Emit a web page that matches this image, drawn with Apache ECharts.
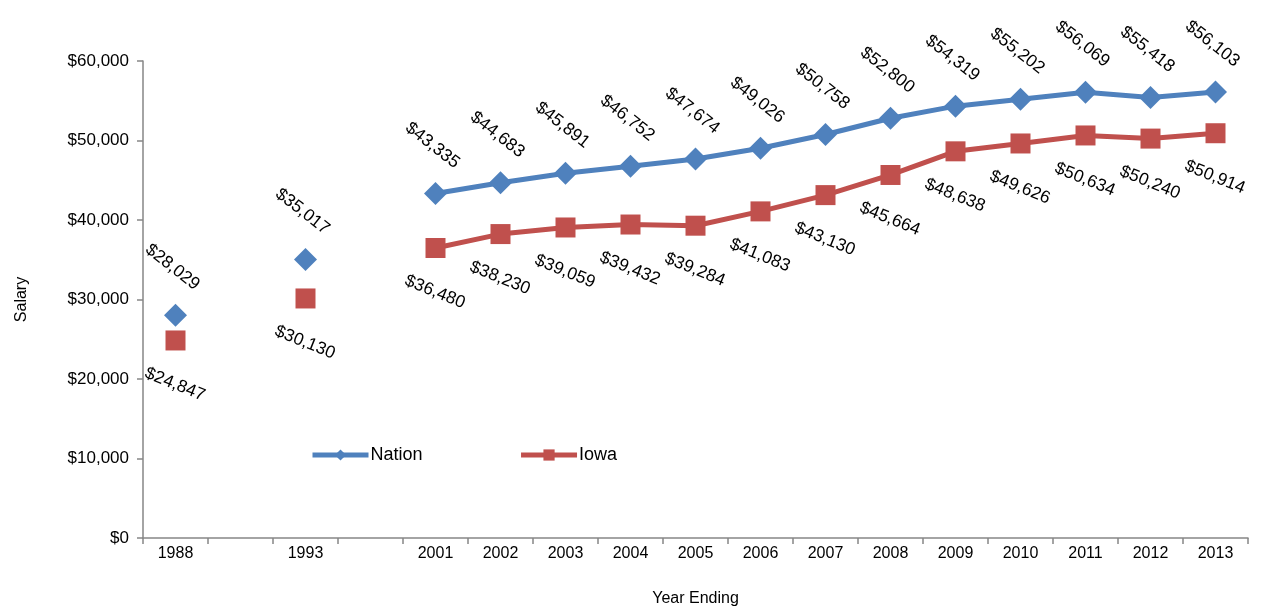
<!DOCTYPE html>
<html>
<head>
<meta charset="utf-8">
<script src="https://cdn.jsdelivr.net/npm/echarts@6/dist/echarts.min.js"></script>
<style>
  html, body { margin: 0; padding: 0; background: #fff; }
  #chart { width: 1272px; height: 607px; }
</style>
</head>
<body>
<div id="chart"></div>
<script>
// blank categories keep the gaps between 1988, 1993 and 2001
const years = ['1988', '', '1993', '', '2001', '2002', '2003', '2004', '2005', '2006', '2007', '2008', '2009', '2010', '2011', '2012', '2013'];
const nation = [28029, null, 35017, null, 43335, 44683, 45891, 46752, 47674, 49026, 50758, 52800, 54319, 55202, 56069, 55418, 56103];
const iowa = [24847, null, 30130, null, 36480, 38230, 39059, 39432, 39284, 41083, 43130, 45664, 48638, 49626, 50634, 50240, 50914];
const yTicks = [0, 10000, 20000, 30000, 40000, 50000, 60000];

const FONT = 'Liberation Sans, Arial, sans-serif';
const money = v => '$' + v.toLocaleString('en-US');

const chart = echarts.init(document.getElementById('chart'));

const option = {
  animation: false,
  textStyle: { fontFamily: FONT },
  grid: { left: 143, right: 24, top: 61, bottom: 69, outerBoundsMode: 'none' },
  legend: {
    left: 310,
    top: 446,
    padding: 0,
    itemWidth: 56,
    itemHeight: 14,
    itemGap: 96,
    lineStyle: { width: 5 },
    textStyle: { fontSize: 18, color: '#000', fontFamily: FONT, padding: [0, 0, 0, -3] },
    data: ['Nation', 'Iowa']
  },
  xAxis: {
    type: 'category',
    data: years,
    name: 'Year Ending',
    nameLocation: 'middle',
    nameGap: 53,
    nameTextStyle: { fontSize: 16, color: '#000' },
    axisLine: { lineStyle: { color: '#868686', width: 1.5 } },
    axisTick: { show: true, length: 6, interval: 0, lineStyle: { color: '#868686', width: 1.5 } },
    axisLabel: { fontSize: 16, color: '#000', margin: 8, interval: 0 }
  },
  yAxis: {
    type: 'value',
    min: yTicks[0],
    max: yTicks[yTicks.length - 1],
    interval: 10000,
    name: 'Salary',
    nameLocation: 'middle',
    nameGap: 113,
    nameTextStyle: { fontSize: 16, color: '#000' },
    splitLine: { show: false },
    axisLine: { show: true, lineStyle: { color: '#868686', width: 1.5 } },
    axisTick: { show: true, length: 6, lineStyle: { color: '#868686', width: 1.5 } },
    axisLabel: { fontSize: 17, color: '#000', margin: 14, formatter: v => money(v) }
  },
  series: [
    {
      name: 'Nation',
      type: 'line',
      data: nation,
      connectNulls: false,
      symbol: 'diamond',
      symbolSize: 23,
      lineStyle: { color: '#4F81BD', width: 5 },
      itemStyle: { color: '#4F81BD' },
      label: {
        show: true,
        position: 'inside',
        rotate: -38,
        offset: [-32, -36],
        fontSize: 17.5,
        color: '#000',
        formatter: p => money(p.value)
      }
    },
    {
      name: 'Iowa',
      type: 'line',
      data: iowa,
      connectNulls: false,
      symbol: 'rect',
      symbolSize: 20,
      lineStyle: { color: '#C0504D', width: 5 },
      itemStyle: { color: '#C0504D' },
      label: {
        show: true,
        position: 'inside',
        rotate: -22,
        offset: [16, 41],
        fontSize: 17.5,
        color: '#000',
        formatter: p => money(p.value)
      }
    }
  ]
};

chart.setOption(option);
</script>
</body>
</html>
